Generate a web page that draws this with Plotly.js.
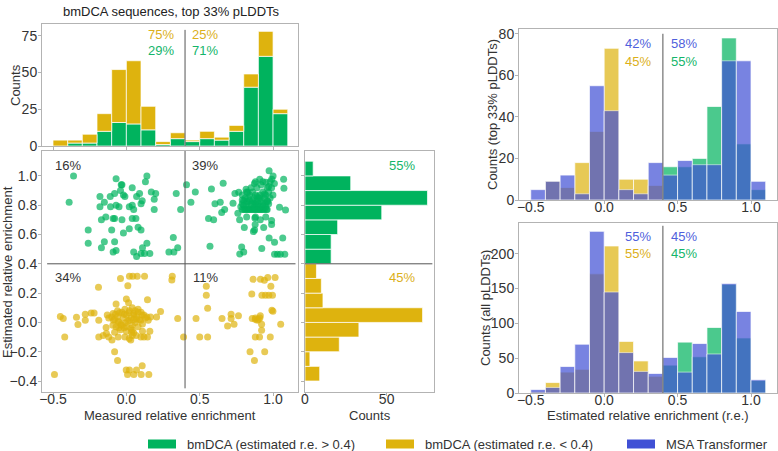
<!DOCTYPE html>
<html>
<head>
<meta charset="utf-8">
<script src="https://cdn.plot.ly/plotly-3.0.1.min.js"></script>
<style>html,body{margin:0;padding:0;background:#fff;}#chart{width:778px;height:451px;}</style>
</head>
<body>
<div id="chart"></div>
<script>
// ---------------- DATA ----------------
const THRESH = 0.4;
// bin left edges, width 0.1
const binLeft = [-0.5,-0.4,-0.3,-0.2,-0.1,0.0,0.1,0.2,0.3,0.4,0.5,0.6,0.7,0.8,0.9,1.0];
const binLow  = [-0.5,-0.4,-0.3,-0.2,-0.1,0.0,0.1,0.2,0.3];   // estimated r.e. < 0.4
const binHigh = [0.4,0.5,0.6,0.7,0.8,0.9,1.0];               // estimated r.e. > 0.4

// Top-left: measured r.e. of bmDCA sequences (stacked)
const measGreen  = [0,2,2,10,16,15,11,1,5,3,5,4,10,40,61,22];
const measYellow = [4,2,6,12,36,43,16,2,4,1,5,2,4,9,17,3];

// Right marginal: estimated r.e. counts
const estYBinsGreen  = [0.4,0.5,0.6,0.7,0.8,0.9,1.0];
const estCountGreen  = [16,16,20,47,75,28,5];
const estYBinsYellow = [-0.4,-0.3,-0.2,-0.1,0.0,0.1,0.2,0.3];
const estCountYellow = [9,3,21,33,72,11,10,7];

// Top-right: top 33% pLDDTs
const topYellow = [0,9,6,18,33,73,10,10,7];
const topGreen  = [16,16,20,45,78,27,5];
const topBlue   = [5,9,12,3,55,43,5,3,18,12,19,17,17,67,67,9];

// Bottom-right: all pLDDTs
const allYellow = [2,15,30,34,171,211,74,46,24];
const allGreen  = [40,73,52,94,156,79,18];
const allBlue   = [5,8,38,70,232,145,58,31,28,51,30,71,56,157,117,19];

// Legend labels
const legendNames = ['bmDCA (estimated r.e. > 0.4)', 'bmDCA (estimated r.e. < 0.4)', 'MSA Transformer'];

// Scatter: measured (x) vs estimated (y) relative enrichment
const greenX = [-0.36,-0.39,-0.07,-0.035,-0.03,0.14,0.13,0.04,-0.04,-0.08,-0.18,-0.11,-0.02,-0.01,0.09,0.07,0.17,0.20,0.34,
  -0.15,-0.18,-0.108,-0.07,-0.05,0.02,0.04,0.05,0.108,0.10,0.19,0.19,0.37,-0.17,-0.14,-0.09,-0.08,-0.03,0.04,0.065,0.02,0.08,0.10,
  -0.10,-0.02,-0.26,-0.26,-0.15,-0.17,-0.08,-0.09,-0.07,0.14,0.11,0.05,0.07,0.10,0.124,0.16,0.32,0.35,0.29,0.324,
  0.41,0.47,0.44,0.66,0.58,0.604,0.64,0.67,0.65,0.56,0.595,0.57,0.74,0.766,0.816,0.827,0.873,0.909,0.973,1.0,0.991,0.95,1.009,1.072,
  0.918,0.97,0.892,0.942,0.999,0.79,0.823,0.868,0.91,0.948,0.964,0.80,0.83,0.87,0.91,0.955,0.79,0.89,0.93,0.727,0.76,0.772,0.876,
  0.913,0.99,0.99,0.878,0.874,0.936,0.804,1.044,1.085,1.074,0.973,1.01,1.066,0.786,0.80,0.773,0.923,1.01,1.03,1.05,1.08,0.866,
  0.80,0.81,0.82,0.84,0.85,0.86,0.88,0.89,0.90,0.92,0.93,0.94,0.96,0.78,0.83,0.87,0.91,0.95,0.79,0.82,0.85,0.88,0.90,0.93,0.97,
  0.80,0.84,0.86,0.89,0.92,0.96,0.81,0.83,0.87,0.90,0.94,0.98,0.79,0.84,0.88,0.91,0.95,0.82,0.86,0.93,0.97,0.85,0.89,0.96,0.99,
  0.88,0.93,0.98,0.82,0.88,0.95];
const greenY = [1.0,0.82,0.98,0.94,0.94,1.0,0.96,0.92,0.90,0.88,0.86,0.86,0.87,0.86,0.88,0.86,0.89,0.88,0.88,
  0.82,0.79,0.79,0.80,0.79,0.79,0.80,0.77,0.83,0.81,0.84,0.77,0.77,0.70,0.72,0.71,0.71,0.70,0.71,0.71,0.64,0.65,0.63,
  0.63,0.61,0.63,0.54,0.55,0.51,0.55,0.48,0.49,0.54,0.51,0.48,0.45,0.47,0.47,0.47,0.58,0.51,0.48,0.48,
  0.94,0.89,0.82,0.95,0.91,0.81,0.82,0.77,0.75,0.71,0.70,0.52,0.88,0.888,0.909,0.888,0.948,0.977,1.036,1.0,0.977,0.957,0.948,0.977,
  0.939,0.927,0.859,0.877,0.87,0.836,0.825,0.813,0.847,0.813,0.825,0.80,0.77,0.77,0.77,0.77,0.77,0.80,0.795,0.813,0.745,0.70,0.713,
  0.70,0.695,0.668,0.668,0.63,0.647,0.647,0.786,0.768,0.916,0.576,0.547,0.576,0.515,0.48,0.467,0.504,0.465,0.465,0.465,0.465,0.62,
  0.77,0.77,0.77,0.77,0.77,0.77,0.77,0.77,0.77,0.77,0.77,0.77,0.77,0.79,0.79,0.79,0.79,0.79,0.81,0.81,0.81,0.81,0.81,0.81,0.81,
  0.83,0.83,0.83,0.83,0.83,0.83,0.85,0.85,0.85,0.85,0.85,0.85,0.87,0.87,0.87,0.87,0.87,0.89,0.89,0.89,0.89,0.92,0.92,0.92,0.92,
  0.96,0.96,0.96,0.72,0.72,0.72];
const yellowX = [-0.04,0.021,0.044,0.074,0.124,0.01,-0.19,0.313,0.31,0.0,0.015,0.144,-0.07,-0.45,-0.43,-0.34,-0.33,-0.28,-0.28,
  -0.24,-0.22,-0.13,-0.10,-0.074,-0.047,-0.015,0.017,0.051,0.08,0.108,0.14,0.165,0.206,0.233,0.35,0.39,-0.088,-0.056,-0.038,
  -0.006,0.021,0.04,0.069,0.099,0.149,-0.188,-0.138,-0.092,-0.051,-0.015,0.04,0.035,-0.08,-0.136,-0.158,-0.188,-0.12,-0.098,
  -0.056,-0.01,0.03,0.067,0.099,0.12,0.144,0.11,0.16,-0.42,-0.08,-0.06,-0.001,0.021,0.008,0.051,0.069,0.108,0.101,0.153,-0.49,
  -0.09,-0.06,-0.03,0.0,0.02,0.05,0.07,0.10,0.12,-0.08,-0.05,-0.02,0.01,0.03,0.06,0.09,0.11,-0.07,-0.04,0.0,0.03,0.05,0.08,
  0.04,0.02,-0.01,0.04,-0.12,0.13,0.06,0.0,0.05,-0.03,0.08,-0.06,
  0.545,0.545,0.554,0.475,0.50,0.554,0.652,0.714,0.714,0.764,0.69,0.734,0.864,0.914,0.941,0.964,1.014,0.855,0.924,0.948,0.971,
  0.996,0.985,0.992,0.999,0.858,0.879,0.892,0.913,0.922,0.922,1.052,0.879,0.908,0.981,0.843,0.943,0.873,0.88,0.90,0.91];
const yellowY = [0.30,0.315,0.315,0.315,0.315,0.25,0.24,0.315,0.29,0.16,0.135,0.155,0.126,0.04,0.026,0.035,-0.015,0.055,0.015,
  0.064,0.064,0.05,0.037,0.055,0.066,0.055,0.066,0.05,0.07,0.05,0.037,0.037,0.037,0.075,0.026,-0.10,0.015,0.008,-0.015,
  -0.002,0.015,-0.02,0.022,0.015,0.015,0.015,-0.035,-0.02,-0.037,-0.037,-0.053,-0.068,-0.068,-0.075,-0.09,-0.10,-0.10,-0.12,
  -0.10,-0.10,-0.12,-0.09,-0.10,-0.10,-0.10,-0.06,-0.06,-0.10,-0.20,-0.26,-0.325,-0.325,-0.355,-0.355,-0.325,-0.296,-0.355,-0.355,-0.355,
  0.06,0.04,0.07,0.05,0.08,0.06,0.04,0.07,0.05,0.02,0.0,0.03,0.01,0.03,0.0,0.02,-0.01,-0.03,-0.05,-0.03,-0.04,-0.07,-0.03,
  -0.09,-0.11,0.09,0.10,0.03,0.03,0.08,-0.06,0.02,-0.02,0.09,0.08,
  0.247,0.185,0.096,0.026,-0.10,-0.10,0.026,0.055,0.026,0.046,-0.024,-0.013,0.294,0.294,0.288,0.306,0.306,0.194,0.185,0.185,0.185,
  0.185,0.247,0.083,0.076,0.026,0.022,0.015,0.046,-0.013,-0.053,-0.013,-0.10,-0.10,-0.10,-0.20,-0.20,-0.26,0.03,0.02,0.03];

// ---------------- STYLE ----------------
const GREEN = '#00b35e', YELLOW = '#deb30e', BLUE = '#4050d5';
const TXT = '#333333', BOX = '#b3b3b3', FONT = '"Liberation Sans", Arial, sans-serif';
const W = 778, H = 451;
const fx = p => p / W, fy = p => 1 - p / H;
const edge = {color: 'rgba(255,255,255,0.7)', width: 1};

function bars(x, y, color, xa, ya, opts) {
  return Object.assign({type: 'bar', x: x, y: y, xaxis: xa, yaxis: ya, offset: 0, width: 0.1,
    marker: {color: color, line: edge}, showlegend: false, hoverinfo: 'skip'}, opts || {});
}

const traces = [
  // top-left stacked hist
  bars(binLeft, measGreen, GREEN, 'x', 'y', {name: legendNames[0]}),
  bars(binLeft, measYellow, YELLOW, 'x', 'y', {base: measGreen, name: legendNames[1]}),
  // scatter
  {type: 'scatter', mode: 'markers', x: greenX, y: greenY, xaxis: 'x2', yaxis: 'y2', showlegend: false,
   marker: {color: GREEN, size: 7, opacity: 0.7, line: {width: 0}}, hoverinfo: 'skip'},
  {type: 'scatter', mode: 'markers', x: yellowX, y: yellowY, xaxis: 'x2', yaxis: 'y2', showlegend: false,
   marker: {color: YELLOW, size: 7, opacity: 0.7, line: {width: 0}}, hoverinfo: 'skip'},
  // right marginal hist (horizontal)
  {type: 'bar', orientation: 'h', y: estYBinsGreen, x: estCountGreen, xaxis: 'x3', yaxis: 'y3', offset: 0, width: 0.1,
   marker: {color: GREEN, line: edge}, showlegend: false, hoverinfo: 'skip'},
  {type: 'bar', orientation: 'h', y: estYBinsYellow, x: estCountYellow, xaxis: 'x3', yaxis: 'y3', offset: 0, width: 0.1,
   marker: {color: YELLOW, line: edge}, showlegend: false, hoverinfo: 'skip'},
  // top-right
  bars(binLow, topYellow, YELLOW, 'x4', 'y4', {opacity: 0.7}),
  bars(binHigh, topGreen, GREEN, 'x4', 'y4', {opacity: 0.7}),
  bars(binLeft, topBlue, BLUE, 'x4', 'y4', {opacity: 0.7, name: legendNames[2]}),
  // bottom-right
  bars(binLow, allYellow, YELLOW, 'x5', 'y5', {opacity: 0.7}),
  bars(binHigh, allGreen, GREEN, 'x5', 'y5', {opacity: 0.7}),
  bars(binLeft, allBlue, BLUE, 'x5', 'y5', {opacity: 0.7})
];

const baseAxis = {showline: true, mirror: true, linecolor: BOX, linewidth: 1, showgrid: false, zeroline: false,
  ticks: 'outside', ticklen: 3, tickcolor: BOX, tickfont: {size: 14, color: TXT, family: FONT}, fixedrange: true,
  automargin: false};
const ax = o => Object.assign({}, baseAxis, o);
const xa = o => ax(Object.assign({ticklabelstandoff: -9}, o));
const ya = o => ax(Object.assign({ticklabelstandoff: -2}, o));
const xTicks = [-0.5, 0, 0.5, 1.0];
const yTicks = [-0.4, -0.2, 0, 0.2, 0.4, 0.6, 0.8, 1.0];

const layout = {
  width: W, height: H, margin: {l: 0, r: 0, t: 0, b: 0},
  paper_bgcolor: '#fff', plot_bgcolor: '#fff', barmode: 'overlay', bargap: 0, showlegend: false,
  font: {family: FONT, color: TXT},
  xaxis: xa({domain: [fx(42), fx(298)], range: [-0.575, 1.17], anchor: 'y', tickvals: xTicks, showticklabels: false}),
  yaxis: ya({domain: [fy(146), fy(24)], range: [0, 83], anchor: 'x', tickvals: [0, 25, 50, 75]}),
  xaxis2: xa({domain: [fx(42), fx(298)], range: [-0.575, 1.17], anchor: 'y2', tickvals: xTicks, tickformat: '.1f'}),
  yaxis2: ya({domain: [fy(392), fy(151)], range: [-0.475, 1.17], anchor: 'x2', tickvals: yTicks, tickformat: '.1f'}),
  xaxis3: xa({domain: [fx(305), fx(434)], range: [0, 79], anchor: 'y3', tickvals: [0, 50]}),
  yaxis3: ya({domain: [fy(392), fy(151)], range: [-0.475, 1.17], anchor: 'x3', tickvals: yTicks, showticklabels: false}),
  xaxis4: xa({domain: [fx(519), fx(777)], range: [-0.58, 1.177], anchor: 'y4', tickvals: xTicks, tickformat: '.1f'}),
  yaxis4: ya({domain: [fy(200), fy(29)], range: [0, 82.3], anchor: 'x4', tickvals: [0, 20, 40, 60, 80]}),
  xaxis5: xa({domain: [fx(519), fx(777)], range: [-0.58, 1.177], anchor: 'y5', tickvals: xTicks, tickformat: '.1f'}),
  yaxis5: ya({domain: [fy(393), fy(223)], range: [0, 244], anchor: 'x5', tickvals: [0, 50, 100, 150, 200]}),
  shapes: [
    {type: 'line', xref: 'x', yref: 'y', x0: THRESH, x1: THRESH, y0: 0, y1: 79, line: {color: '#555', width: 1}},
    {type: 'line', xref: 'x2', yref: 'y2', x0: THRESH, x1: THRESH, y0: -0.45, y1: 1.17, line: {color: '#555', width: 1}},
    {type: 'line', xref: 'x2', yref: 'y2', x0: -0.54, x1: 1.153, y0: THRESH, y1: THRESH, line: {color: '#555', width: 1}},
    {type: 'line', xref: 'x3', yref: 'y3', x0: 0, x1: 78, y0: THRESH, y1: THRESH, line: {color: '#555', width: 1}},
    {type: 'line', xref: 'x4', yref: 'y4', x0: THRESH, x1: THRESH, y0: 0, y1: 80, line: {color: '#555', width: 1}},
    {type: 'line', xref: 'x5', yref: 'y5', x0: THRESH, x1: THRESH, y0: 0, y1: 240, line: {color: '#555', width: 1}}
  ],
  annotations: []
};

const ann = (t, x, y, c, size, angle, anchor) => ({text: t, x: fx(x), y: fy(y), xref: 'paper', yref: 'paper', showarrow: false,
  xanchor: anchor || 'center', yanchor: 'middle', textangle: angle || 0, font: {size: size || 13, color: c, family: FONT}});
const AG = '#14b56a', AY = '#dcb01a', AB = '#4f5fdc';
layout.annotations.push(
  ann('bmDCA sequences, top 33% pLDDTs', 171, 11, '#222', 13),
  // axis titles
  ann('Counts', 15, 85, TXT, 13, -90),
  ann('Estimated relative enrichment', 7, 272, TXT, 13, -90),
  ann('Measured relative enrichment', 170, 415, TXT, 13),
  ann('Counts', 370, 415, TXT, 13),
  ann('Counts (top 33% pLDDTs)', 492, 115, TXT, 13, -90),
  ann('Counts (all pLDDTs)', 485, 308, TXT, 13, -90),
  ann('Estimated relative enrichment (r.e.)', 648, 415, TXT, 13),
  // percentages
  ann('75%', 161, 34, AY), ann('29%', 161, 51, AG), ann('25%', 205, 34, AY), ann('71%', 205, 51, AG),
  ann('16%', 68, 165, TXT), ann('39%', 205, 165, TXT), ann('34%', 68, 277, TXT), ann('11%', 205, 277, TXT),
  ann('55%', 402, 165, AG), ann('45%', 402, 277, AY),
  ann('42%', 638, 44, AB), ann('45%', 638, 61, AY), ann('58%', 684, 44, AB), ann('55%', 684, 61, AG),
  ann('55%', 638, 236, AB), ann('55%', 638, 253, AY), ann('45%', 684, 236, AB), ann('45%', 684, 253, AG)
);

// manual legend (wide swatches like the reference)
const legendColors = [GREEN, YELLOW, BLUE];
const legendSwatchX = [148, 386, 627];
legendNames.forEach((name, i) => {
  const x0 = legendSwatchX[i];
  layout.shapes.push({type: 'rect', xref: 'paper', yref: 'paper', x0: fx(x0), x1: fx(x0 + 28), y0: fy(448.5), y1: fy(439.5),
    fillcolor: legendColors[i], line: {width: 0}});
  layout.annotations.push(ann(name, x0 + 37, 444, TXT, 13, 0, 'left'));
});

Plotly.newPlot('chart', traces, layout, {staticPlot: true, displayModeBar: false});
</script>
</body>
</html>
